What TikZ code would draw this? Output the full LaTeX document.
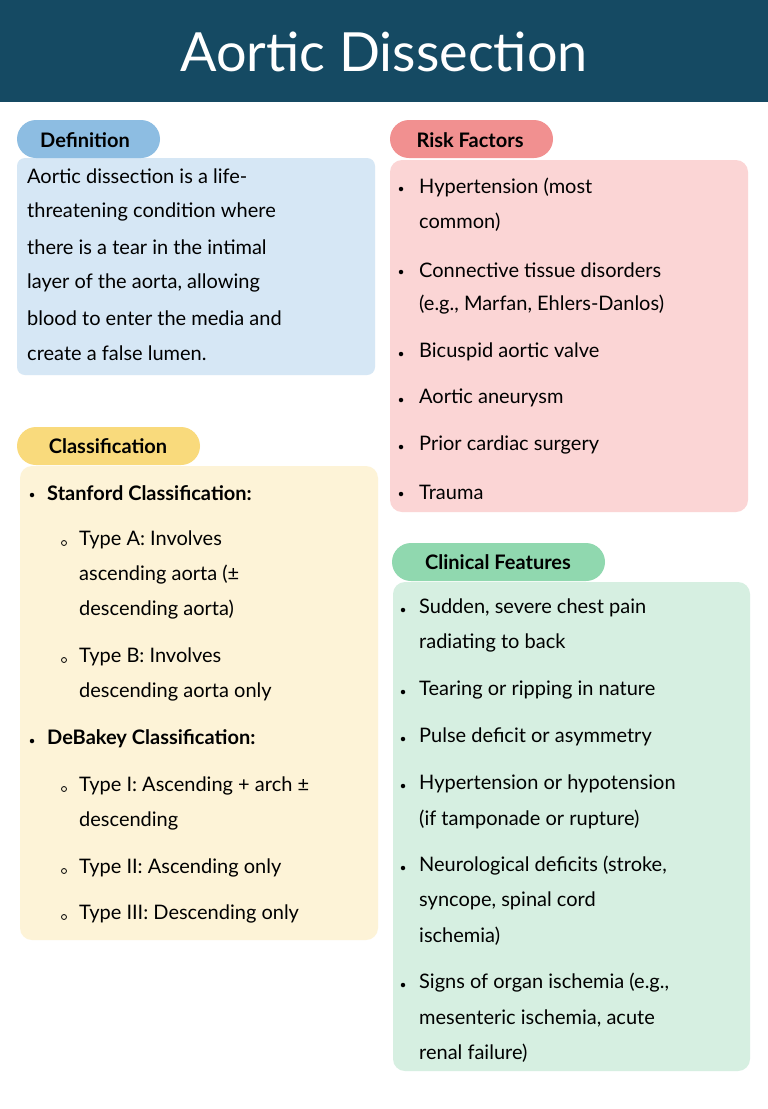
\documentclass[tikz,border=0pt]{standalone}
\usepackage{fontspec}
\setmainfont{Lato}
\definecolor{titlebg}{HTML}{154A63}
\definecolor{defhead}{HTML}{8DBDE2}
\definecolor{defbox}{HTML}{D6E7F5}
\definecolor{riskhead}{HTML}{F19090}
\definecolor{riskbox}{HTML}{FBD5D5}
\definecolor{clshead}{HTML}{F9DA7C}
\definecolor{clsbox}{HTML}{FDF3D7}
\definecolor{clinhead}{HTML}{90D8AF}
\definecolor{clinbox}{HTML}{D6EFE1}
\tikzset{
  txt/.style={anchor=west,inner sep=0pt,font=\fontsize{20}{24}\selectfont},
  btxt/.style={txt,font=\fontsize{20}{24}\selectfont\bfseries},
  head/.style={font=\fontsize{20}{24}\selectfont\bfseries,inner sep=0pt},
  dot/.style={fill=black,circle,inner sep=0pt,minimum size=4.5pt},
  ring/.style={draw=black,circle,inner sep=0pt,minimum size=5pt,line width=.8pt},
}
\begin{document}
\begin{tikzpicture}[x=1pt,y=-1pt]
  \useasboundingbox (0,0) rectangle (768,1109);
  \fill[white] (0,0) rectangle (768,1109);

  %% title
  \fill[titlebg] (0,0) rectangle (768,102);
  \node[font=\fontsize{54}{60}\selectfont,text=white] (title) at (384,52) {Aortic Dissection};

  %% boxes
  \fill[defbox,rounded corners=8] (17,158) rectangle (375,375);
  \fill[defhead,rounded corners=19] (17,120) rectangle (160,158);
  \node[head] (defh) at (85,140) {Definition};

  \fill[riskbox,rounded corners=12] (390,160) rectangle (748,512);
  \fill[riskhead,rounded corners=19] (390,120) rectangle (553,158);
  \node[head] (riskh) at (470,140) {Risk Factors};

  \fill[clsbox,rounded corners=12] (20,466) rectangle (378,940);
  \fill[clshead,rounded corners=19] (17,427) rectangle (200,465);
  \node[head] (clsh) at (108,446) {Classification};

  \fill[clinbox,rounded corners=12] (393,582) rectangle (750,1071);
  \fill[clinhead,rounded corners=19] (392,543) rectangle (605,581);
  \node[head] (clinh) at (498,562) {Clinical Features};

  %% definition text
  \foreach \y/\t [count=\i] in {176/Aortic dissection is a life-,212/threatening condition where,
      247/there is a tear in the intimal,283/{layer of the aorta, allowing},
      318/blood to enter the media and,353/create a false lumen.}
    \node[txt] (def\i) at (27,\y) {\t};

  %% risk factors
  \foreach \y in {189,272,354,400,447,494}
    \node[dot] at (401,\y) {};
  \foreach \y/\t [count=\i] in {187/Hypertension (most,222/common),
      270/Connective tissue disorders,305/{(e.g., Marfan, Ehlers-Danlos)},
      352/Bicuspid aortic valve,398/Aortic aneurysm,445/Prior cardiac surgery,492/Trauma}
    \node[txt] (risk\i) at (419,\y) {\t};

  %% classification
  \foreach \y in {495,741}
    \node[dot] at (32,\y) {};
  \node[btxt] (stan) at (47,493) {Stanford Classification:};
  \node[btxt] (deb) at (47,739) {DeBakey Classification:};
  \foreach \y in {543,660,789,871,917}
    \node[ring] at (64,\y) {};
  \foreach \y/\t [count=\i] in {540/Type A: Involves,575/ascending aorta (±,610/descending aorta),
      657/Type B: Involves,692/descending aorta only,786/Type I: Ascending + arch ±,
      821/descending,868/Type II: Ascending only,914/Type III: Descending only}
    \node[txt] (cls\i) at (79,\y) {\t};

  %% clinical features
  \foreach \y in {610,692,739,786,868,985}
    \node[dot] at (403,\y) {};
  \foreach \y/\t [count=\i] in {608/{Sudden, severe chest pain},643/radiating to back,
      690/Tearing or ripping in nature,737/Pulse deficit or asymmetry,
      784/Hypertension or hypotension,819/(if tamponade or rupture),
      866/{Neurological deficits (stroke,},901/{syncope, spinal cord},936/ischemia),
      983/{Signs of organ ischemia (e.g.,},1018/{mesenteric ischemia, acute},1053/renal failure)}
    \node[txt] (clin\i) at (419,\y) {\t};
\end{tikzpicture}
\end{document}
